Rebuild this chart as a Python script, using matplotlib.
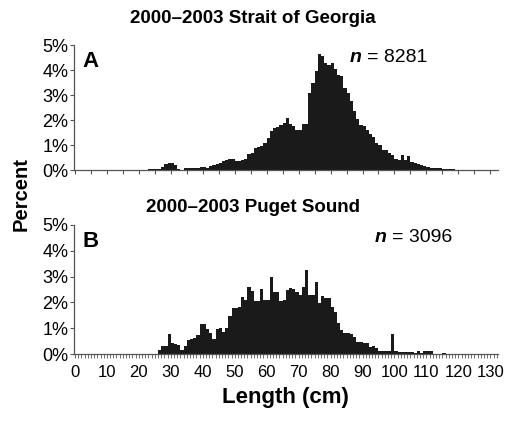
import matplotlib
matplotlib.use("Agg")
import matplotlib.pyplot as plt
import numpy as np

plt.rcParams["font.family"] = ["Liberation Sans", "DejaVu Sans"]

# percent of fish per 1-cm length bin (bin left edge = start + index)
georgia_start = 23
georgia_pct = [
    0.05, 0.05, 0.05, 0.05, 0.12, 0.25, 0.30, 0.30, 0.20, 0.05,
    0.02, 0.07, 0.07, 0.10, 0.10, 0.08, 0.12, 0.12, 0.08, 0.15,
    0.20, 0.25, 0.30, 0.35, 0.40, 0.43, 0.43, 0.35, 0.38, 0.42,
    0.45, 0.65, 0.67, 0.90, 0.92, 0.95, 1.10, 1.30, 1.55, 1.70,
    1.72, 1.80, 1.90, 2.07, 1.85, 1.75, 1.60, 1.60, 1.83, 1.83,
    3.07, 3.50, 3.95, 4.65, 4.55, 4.30, 4.20, 4.27, 4.05, 3.80,
    3.75, 3.30, 3.07, 2.75, 2.35, 2.05, 1.80, 1.75, 1.60, 1.45,
    1.33, 1.07, 1.00, 0.80, 0.80, 0.67, 0.60, 0.45, 0.40, 0.60,
    0.40, 0.55, 0.33, 0.28, 0.25, 0.20, 0.18, 0.13, 0.10, 0.10,
    0.08, 0.08, 0.05, 0.04, 0.04, 0.04,
]
georgia_n = 8281

puget_start = 26
puget_pct = [
    0.15, 0.30, 0.32, 0.78, 0.42, 0.40, 0.35, 0.15, 0.30, 0.55,
    0.60, 0.63, 0.75, 1.15, 1.15, 0.97, 0.80, 0.60, 0.97, 1.02,
    0.85, 1.00, 1.47, 1.77, 1.80, 1.83, 2.22, 2.10, 2.60, 2.45,
    2.05, 2.07, 2.52, 2.10, 2.10, 3.00, 2.40, 2.39, 2.05, 2.08,
    2.48, 2.55, 2.50, 2.42, 2.29, 2.60, 3.26, 2.29, 2.29, 2.78,
    1.96, 2.26, 2.16, 2.16, 1.83, 1.64, 1.19, 0.93, 0.80, 0.80,
    0.76, 0.67, 0.48, 0.48, 0.41, 0.41, 0.28, 0.32, 0.22, 0.12,
    0.12, 0.12, 0.12, 0.76, 0.12, 0.09, 0.09, 0.09, 0.09, 0.09,
    0.05, 0.10, 0.05, 0.10, 0.10, 0.10, 0.00, 0.00, 0.00, 0.05,
]
puget_n = 3096

panels = [
    ("2000\u20132003 Strait of Georgia", "A", georgia_start, georgia_pct, georgia_n, 0.957, 0.651, 0.904),
    ("2000\u20132003 Puget Sound", "B", puget_start, puget_pct, puget_n, 0.508, 0.71, 0.90),
]

fig = plt.figure(figsize=(5.05, 4.21), dpi=100)
ax_a = fig.add_axes([0.1465, 0.596, 0.839, 0.297])
ax_b = fig.add_axes([0.1465, 0.159, 0.839, 0.307])

for ax, (title, letter, start, pct, n, ty, nx, ny) in zip([ax_a, ax_b], panels):
    x = start + np.arange(len(pct))
    ax.bar(x, pct, width=1.0, align="edge", color="#1a1a1a", linewidth=0)
    ax.set_xlim(-0.3, 132.3)
    ax.set_ylim(0, 5)
    ax.set_yticks(range(6))
    ax.set_yticklabels([f"{v}%" for v in range(6)], fontsize=13)
    for s in ["top", "right"]:
        ax.spines[s].set_visible(False)
    for s in ["left", "bottom"]:
        ax.spines[s].set_color("#555555")
        ax.spines[s].set_linewidth(0.9)
    ax.tick_params(axis="y", length=3, width=0.8, color="#555555", pad=1)
    fig.text(0.5, ty, title, fontsize=13.5, fontweight="bold", va="center", ha="center")
    ax.text(0.02, 0.87, letter, transform=ax.transAxes, fontsize=16,
            fontweight="bold", va="center", ha="left")
    ax.text(nx, ny, "n", transform=ax.transAxes, fontsize=14,
            fontweight="bold", style="italic", va="center", ha="left")
    ax.text(nx + 0.04, ny, f"= {n}", transform=ax.transAxes,
            fontsize=14, va="center", ha="left")

ax_a.set_xticks(np.arange(0, 131, 5))
ax_a.tick_params(axis="x", length=3, width=0.8, color="#555555", labelbottom=False)

ax_b.set_xticks(np.arange(0, 131, 10))
ax_b.set_xticks(np.arange(0, 133, 1), minor=True)
ax_b.tick_params(axis="x", which="both", length=3, width=0.6, color="#555555",
                 labelsize=12, pad=5)
ax_b.set_xlabel("Length (cm)", fontsize=16, fontweight="bold", labelpad=5)

fig.text(0.042, 0.539, "Percent", rotation=90, fontsize=14.5, fontweight="bold",
         va="center", ha="center")

fig.savefig("out.png", dpi=100)
